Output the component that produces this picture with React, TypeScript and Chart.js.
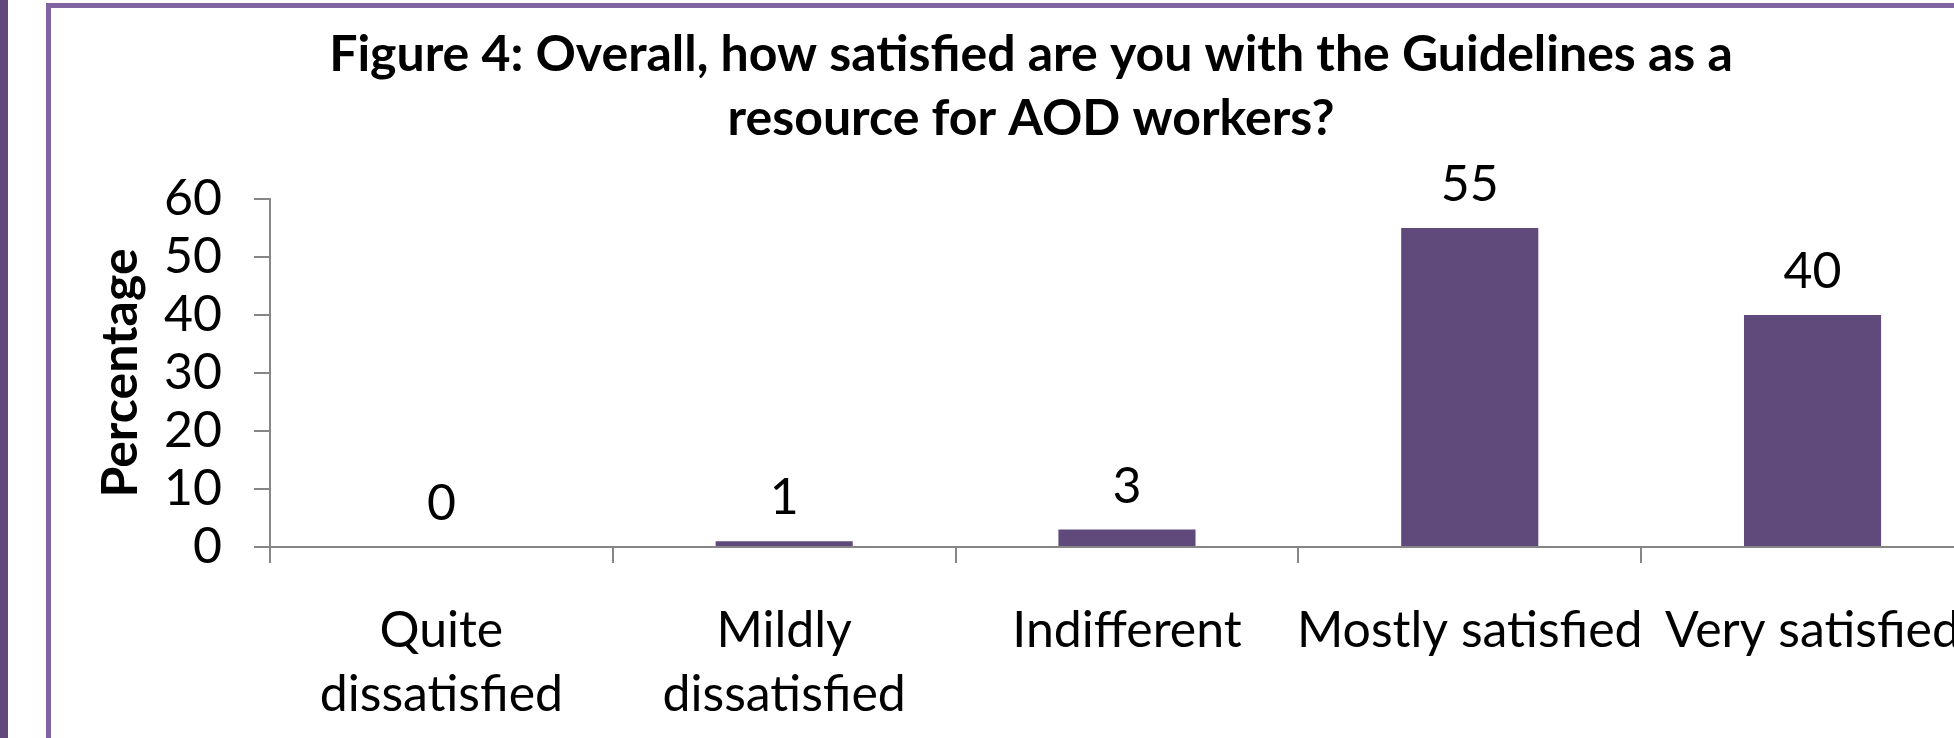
import React, { useEffect, useRef } from "react";
import { Chart, registerables } from "chart.js";

Chart.register(...registerables);

const categories: (string | string[])[] = [
  ["Quite", "dissatisfied"],
  ["Mildly", "dissatisfied"],
  "Indifferent",
  "Mostly satisfied",
  "Very satisfied",
];
const percentages: number[] = [0, 1, 3, 55, 40];
const titleLines: string[] = [
  "Figure 4: Overall, how satisfied are you with the Guidelines as a",
  "resource for AOD workers?",
];
const yAxisTitle = "Percentage";
const yMin = 0;
const yMax = 60;
const yStep = 10;

const FONT = "Lato, 'Noto Sans', sans-serif";
const BAR_COLOR = "#604A7B";
const FRAME_COLOR = "#8064A2";
const AXIS_COLOR = "#868686";

const CANVAS_LEFT = 66;
const CANVAS_W = 1930;
const CANVAS_H = 738;

const valueLabels = {
  id: "valueLabels",
  afterDatasetsDraw(chart: any) {
    const { ctx } = chart;
    const meta = chart.getDatasetMeta(0);
    ctx.save();
    ctx.font = `50px ${FONT}`;
    ctx.fillStyle = "#000";
    ctx.textAlign = "center";
    ctx.textBaseline = "middle";
    meta.data.forEach((el: any, i: number) => {
      ctx.fillText(String(percentages[i]), el.x, el.y - 43);
    });
    ctx.restore();
  },
};

export default function App() {
  const ref = useRef<HTMLCanvasElement | null>(null);

  useEffect(() => {
    if (!ref.current) return;
    const chart = new Chart(ref.current, {
      type: "bar",
      data: {
        labels: categories,
        datasets: [
          {
            data: percentages,
            backgroundColor: BAR_COLOR,
            borderWidth: 0,
            barPercentage: 0.4,
            categoryPercentage: 1,
          },
        ],
      },
      options: {
        responsive: false,
        animation: false,
        devicePixelRatio: 1,
        layout: { padding: { left: 0, right: 0, top: 0, bottom: 0 } },
        plugins: {
          legend: { display: false },
          tooltip: { enabled: false },
          title: {
            display: true,
            text: titleLines,
            color: "#000",
            font: { family: FONT, size: 50, weight: "bold", lineHeight: 1.28 },
            padding: { top: 23, bottom: 48 },
          },
        },
        scales: {
          x: {
            grid: {
              offset: true,
              drawOnChartArea: false,
              drawTicks: true,
              tickLength: 16,
              color: AXIS_COLOR,
              lineWidth: 2,
            },
            border: { display: true, color: AXIS_COLOR, width: 2 },
            ticks: {
              color: "#000",
              font: { family: FONT, size: 50, lineHeight: 1.28 },
              padding: 36,
              maxRotation: 0,
              minRotation: 0,
              autoSkip: false,
            },
            afterFit: (s: any) => {
              s.height = 191;
            },
          },
          y: {
            min: yMin,
            max: yMax,
            grid: {
              drawOnChartArea: false,
              drawTicks: true,
              tickLength: 16,
              color: AXIS_COLOR,
              lineWidth: 2,
            },
            border: { display: true, color: AXIS_COLOR, width: 2 },
            ticks: {
              stepSize: yStep,
              autoSkip: false,
              color: "#000",
              font: { family: FONT, size: 50, lineHeight: 1.28 },
              padding: 32,
            },
            title: {
              display: true,
              text: yAxisTitle,
              color: "#000",
              font: { family: FONT, size: 50, weight: "bold", lineHeight: 1.2 },
              padding: { top: 25, bottom: 0 },
            },
            afterFit: (s: any) => {
              s.width = 270 - CANVAS_LEFT;
            },
          },
        },
      },
      plugins: [valueLabels],
    });
    return () => chart.destroy();
  }, []);

  return (
    <div
      style={{
        position: "fixed",
        left: 0,
        top: 0,
        width: 1954,
        height: 738,
        overflow: "hidden",
        background: "#fff",
      }}
    >
      <canvas
        ref={ref}
        width={CANVAS_W}
        height={CANVAS_H}
        style={{ position: "absolute", left: CANVAS_LEFT, top: 0, width: CANVAS_W, height: CANVAS_H }}
      />
      <div style={{ position: "absolute", left: 0, top: 0, width: 8, height: 738, background: BAR_COLOR }} />
      <div style={{ position: "absolute", left: 46, top: 3, width: 5, height: 735, background: FRAME_COLOR }} />
      <div style={{ position: "absolute", left: 46, top: 3, right: 0, height: 5, background: FRAME_COLOR }} />
    </div>
  );
}
